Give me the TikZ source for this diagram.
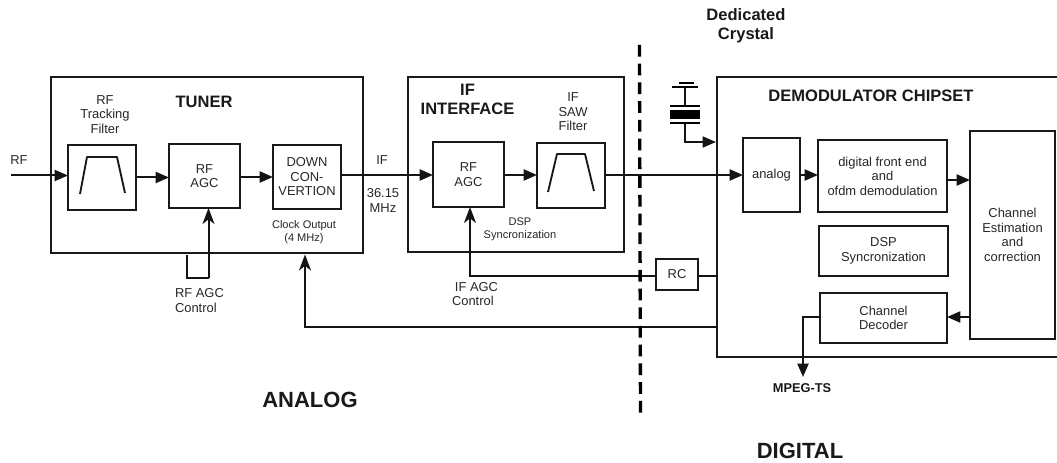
\documentclass[tikz,border=0pt]{standalone}
\usepackage{fontspec}
\setmainfont{Liberation Sans}
\usetikzlibrary{arrows.meta}
\tikzset{
  x=0.75pt,y=-0.75pt,
  wire/.style={line width=1.5pt,black!92},
  thin wire/.style={line width=1.4pt,black!92},
  arr/.style={wire,-{Triangle[length=10pt,width=8.25pt]}},
  barb/.style={wire,-{Stealth[length=12pt,width=9pt,inset=3.5pt]}},
  lab/.style={inner sep=0pt,outer sep=0pt,align=center,text=black!85,font=\fontsize{9.7}{10.9}\selectfont},
  small/.style={lab,font=\fontsize{8.3}{9.8}\selectfont},
  hd/.style={lab,text=black!90,font=\bfseries\fontsize{12.4}{14}\selectfont},
  bighd/.style={lab,text=black!90,font=\bfseries\fontsize{16.5}{19}\selectfont},
  caption text/.style={lab,text=black!90,font=\bfseries\fontsize{12.4}{14.2}\selectfont},
  blockbox/.style={draw=black!90,line width=1.5pt,inner sep=0pt,outer sep=0pt,lab},
  framebox/.style={draw=black!90,line width=1.6pt,inner sep=0pt,outer sep=0pt,lab},
  filt/.style={line width=1.4pt,black!90,line join=round},
}
\newcommand{\pbox}[7][blockbox]{%
  \pgfmathsetmacro{\pcx}{(#3+#5)/2}\pgfmathsetmacro{\pcy}{(#4+#6)/2}%
  \pgfmathsetmacro{\pwd}{(#5-#3)*0.75}\pgfmathsetmacro{\pht}{(#6-#4)*0.75}%
  \node[#1,minimum width=\pwd pt,minimum height=\pht pt] (#2) at (\pcx,\pcy) {#7};}
\begin{document}
\begin{tikzpicture}
\useasboundingbox (0,0) rectangle (1057,463);
% frames
\pbox[framebox]{tuner}{51}{77}{363}{253}{}
\pbox[framebox]{ifif}{408}{77}{624}{252}{}
\pbox[framebox]{demod}{717}{77}{1059}{357}{}
% blocks
\pbox{filtA}{68}{145}{136}{210}{}
\pbox{agcA}{169}{144}{240}{208}{RF\\AGC}
\pbox{down}{273}{145}{341}{209}{DOWN\\CON-\\VERTION}
\pbox{agcB}{433}{142}{504}{207}{RF\\AGC}
\pbox{saw}{537}{143}{605}{208}{}
\pbox{rc}{656}{259}{698}{290}{RC}
\pbox{analog}{743}{138}{800}{212}{analog}
\pbox{front}{818}{140}{947}{212}{digital front end\\and\\ofdm demodulation}
\pbox{dsp}{819}{226}{948}{276}{DSP\\Syncronization}
\pbox{decoder}{820}{293}{947}{343}{Channel\\Decoder}
\pbox{est}{970}{131}{1055}{339}{Channel\\Estimation\\and\\correction}
% filter curves
\draw[filt] (80,194) -- (87,157) -- (117,157) -- (125,193);
\draw[filt] (548,192) -- (557,154) -- (585,154) -- (594,191);
% texts
\node[lab] (rfin) at (19,160) {RF};
\node[lab] (trk) at (105,114.5) {RF\\Tracking\\Filter};
\node[hd] (tunerlab) at (204,102) {TUNER};
\node[lab] (iflab) at (382,160) {IF};
\node[lab] (mhz) at (383,200.5) {36.15\\MHz};
\node[small] (clk) at (304,232) {Clock Output\\(4 MHz)};
\node[lab,align=left,anchor=west] (rfc) at (175,300.5) {RF AGC\\Control};
\node[hd] (iflabb) at (467.5,99.5) {IF\\INTERFACE};
\node[lab] (sawlab) at (573,112) {IF\\SAW\\Filter};
\node[small] (dsps) at (520,229.5) {DSP\\Syncronization};
\node[lab,align=left,anchor=west] (ifc) at (452,294) {\hspace*{2.2pt}IF AGC\\Control};
\node[caption text] (ded) at (746,25.5) {Dedicated\\Crystal};
\node[hd] (demlab) at (871,95.5) {DEMODULATOR CHIPSET};
\node[caption text,font=\bfseries\fontsize{9.6}{11}\selectfont] (mpeg) at (802,388) {MPEG-TS};
\node[bighd] (analoglab) at (310,400) {ANALOG};
\node[bighd] (digitallab) at (800,451) {DIGITAL};
% connectors
\coordinate (rfstart) at (11,175.5);
\coordinate (main) at (0,175);
\draw[arr] (rfstart) -- (filtA.west|-rfstart);
\draw[arr] (filtA.east) -- (agcA.west|-filtA.east);
\draw[arr] (agcA.east|-down.east) -- (down.west);
\draw[arr] (down.east|-main) -- (agcB.west|-main);
\draw[arr] (agcB.east|-main) -- (saw.west|-main);
\draw[arr] (saw.east|-main) -- (analog.west|-main);
\draw[arr] (analog.east|-main) -- (front.west|-main);
\coordinate (fe) at (0,180);
\draw[arr] (front.east|-fe) -- (est.west|-fe);
\coordinate (de) at (0,317);
\draw[arr] (est.west|-de) -- (decoder.east|-de);
% decoder to MPEG
\coordinate (mt) at (803,377);
\draw[arr] (decoder.west|-de) -- (mt|-de) -- (mt);
% RF AGC control
\coordinate (lA) at (187,255);
\coordinate (lB) at (187,278);
\coordinate (lC) at (208.5,278);
\draw[wire,line join=miter] (lA) -- (lB) -- (lC);
\draw[barb] (lC) -- (lC|-agcA.south);
% clock
\coordinate (ckA) at (717,327);
\coordinate (ckB) at (305,327);
\coordinate (ckC) at (305,254.5);
\draw[barb] (ckA) -- (ckB) -- (ckC);
% IF AGC
\coordinate (icA) at (470,276);
\draw[barb] (rc.west|-icA) -- (icA) -- (icA|-agcB.south);
\draw[thin wire] (rc.east|-icA) -- (demod.west|-icA);
% crystal
\coordinate (c1) at (685,87);
\coordinate (c2) at (685,106);
\coordinate (c3) at (685,123);
\coordinate (c4) at (685,142);
\coordinate (c5) at (716,142);
\draw[line width=1.1pt] (679,83) -- (694,83);
\draw[line width=1.1pt] (672,87) -- (698,87);
\draw[thin wire] (c1) -- (c2);
\draw[line width=1.1pt] (670,106) -- (700,106);
\fill[black] (670,110) rectangle (700,119);
\draw[line width=1.1pt] (670,123) -- (700,123);
\draw[arr,line width=1.2pt] (c3) -- (c4) -- (c5);
% divider
\coordinate (dvA) at (639.5,45);
\coordinate (dvB) at (640.5,419);
\draw[line width=2.5pt,dash pattern=on 8.8pt off 5.25pt] (dvA) -- (dvB);
\end{tikzpicture}
\end{document}
